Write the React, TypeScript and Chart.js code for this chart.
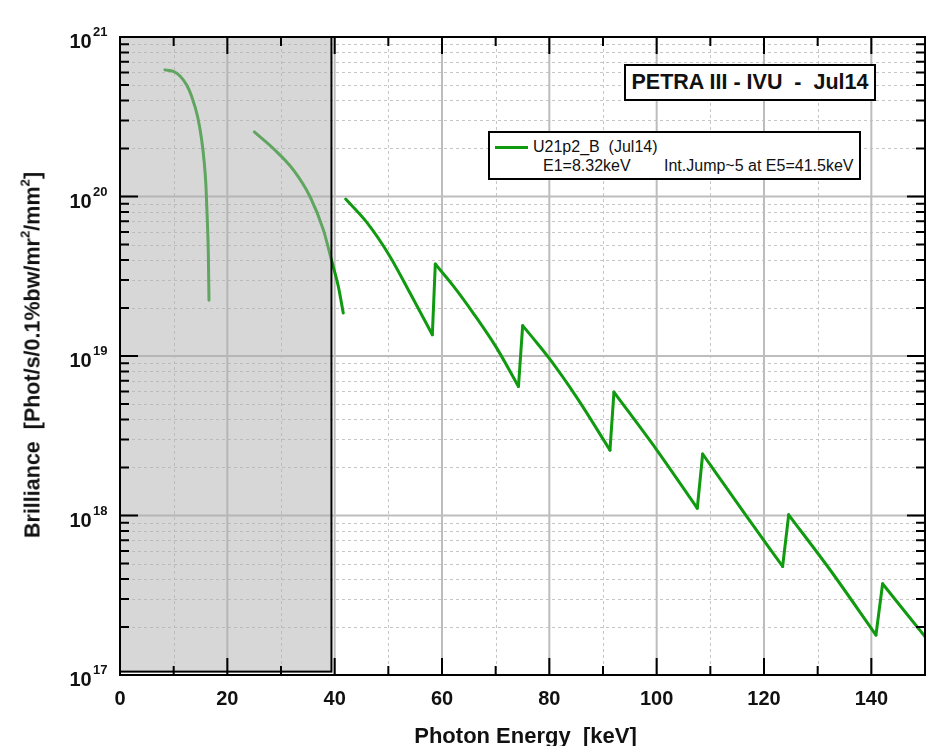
import React, { useEffect, useRef } from 'react';
import { Chart, registerables } from 'chart.js';

Chart.register(...registerables);

// ---- data ----
const h1Energy = [8.38, 9.93, 11.18, 12.42, 13.36, 14.47, 15.22, 15.71, 16.02, 16.27, 16.46, 16.58];
const h1Brilliance = [6.22e20, 6.08e20, 5.7e20, 5.0e20, 4.24e20, 3.16e20, 2.26e20, 1.62e20, 1.16e20, 7.1e19, 4.4e19, 2.24e19];

const h3Energy = [25.03, 28.57, 32.3, 35.4, 37.88, 39.4, 40.68, 41.6];
const h3Brilliance = [2.54e20, 2.0e20, 1.47e20, 1.0e20, 6.2e19, 4.0e19, 2.73e19, 1.86e19];

// harmonics 5..17, continuous curve with jumps
const highEnergy = [42.05, 45.96, 50.3, 54.04, 58.2, 58.75, 62.1, 66.0, 70.2, 74.25, 75.03, 77.0, 80.1, 85.1, 91.3, 92.04, 100.0, 107.57, 108.57, 116.77, 123.47, 124.6, 132.3, 140.86, 142.1, 150];
const highBrilliance = [9.64e19, 6.9e19, 4.21e19, 2.48e19, 1.36e19, 3.77e19, 2.75e19, 1.82e19, 1.12e19, 6.44e18, 1.55e19, 1.29e19, 9.55e18, 5.5e18, 2.57e18, 5.94e18, 2.58e18, 1.11e18, 2.43e18, 9.86e17, 4.79e17, 1.01e18, 4.57e17, 1.78e17, 3.73e17, 1.74e17];

const xTickValues = [0, 20, 40, 60, 80, 100, 120, 140];
const xMinorValues = [10, 30, 50, 70, 90, 110, 130, 150];
const yDecades = [17, 18, 19, 20, 21];
const yMinorMultipliers = [2, 3, 4, 5, 6, 7, 8, 9];
const shadedEnergy = [0, 39.4];
const shadedBrilliance = [1.05e17, 1e21];

const GREEN = '#109a10';
const FONT = 'Arial, "Liberation Sans", Helvetica, sans-serif';

type P = { x: number; y: number };
const toPoints = (xs: number[], ys: number[]): P[] => xs.map((x, i) => ({ x, y: ys[i] }));

// split the continuous curve at the jumps into smooth harmonic pieces + straight jump pieces
function splitAtJumps(pts: P[]) {
  const smooth: P[][] = [];
  const jumps: P[][] = [];
  let cur: P[] = [pts[0]];
  for (let i = 1; i < pts.length; i++) {
    if (pts[i].y > pts[i - 1].y) {
      smooth.push(cur);
      jumps.push([pts[i - 1], pts[i]]);
      cur = [pts[i]];
    } else {
      cur.push(pts[i]);
    }
  }
  smooth.push(cur);
  return { smooth, jumps };
}

const framePlugin = {
  id: 'framePlugin',
  beforeDatasetsDraw(chart: any) {
    const { ctx, chartArea: a, scales } = chart;
    const x = scales.x, y = scales.y;
    ctx.save();
    ctx.lineWidth = 1;
    ctx.strokeStyle = '#c6c6c6';
    ctx.setLineDash([3, 3]);
    ctx.beginPath();
    for (const v of xMinorValues) {
      const px = Math.round(x.getPixelForValue(v)) + 0.5;
      ctx.moveTo(px, a.top); ctx.lineTo(px, a.bottom);
    }
    for (const d of yDecades.slice(0, -1)) {
      for (const k of yMinorMultipliers) {
        const py = Math.round(y.getPixelForValue(k * Math.pow(10, d))) + 0.5;
        ctx.moveTo(a.left, py); ctx.lineTo(a.right, py);
      }
    }
    ctx.stroke();
    ctx.setLineDash([]);
    ctx.lineWidth = 2;
    ctx.strokeStyle = '#bdbdbd';
    ctx.beginPath();
    for (const v of xTickValues) {
      const px = x.getPixelForValue(v);
      ctx.moveTo(px, a.top); ctx.lineTo(px, a.bottom);
    }
    for (const d of yDecades) {
      const py = y.getPixelForValue(Math.pow(10, d));
      ctx.moveTo(a.left, py); ctx.lineTo(a.right, py);
    }
    ctx.stroke();
    ctx.restore();
  },
  afterDatasetsDraw(chart: any) {
    const { ctx, chartArea: a, scales } = chart;
    const x = scales.x, y = scales.y;
    ctx.save();
    const x0 = x.getPixelForValue(shadedEnergy[0]);
    const x1 = x.getPixelForValue(shadedEnergy[1]);
    const y0 = y.getPixelForValue(shadedBrilliance[1]);
    const y1 = y.getPixelForValue(shadedBrilliance[0]);
    ctx.fillStyle = 'rgba(175,175,175,0.5)';
    ctx.fillRect(x0, y0, x1 - x0, y1 - y0);
    ctx.lineWidth = 2;
    ctx.strokeStyle = '#000';
    ctx.strokeRect(x0, y0, x1 - x0, y1 - y0);

    ctx.strokeRect(a.left, a.top, a.right - a.left, a.bottom - a.top);

    ctx.beginPath();
    for (const v of xTickValues) {
      const px = x.getPixelForValue(v);
      ctx.moveTo(px, a.bottom); ctx.lineTo(px, a.bottom - 17);
      ctx.moveTo(px, a.top); ctx.lineTo(px, a.top + 17);
    }
    for (const v of xMinorValues) {
      const px = x.getPixelForValue(v);
      ctx.moveTo(px, a.bottom); ctx.lineTo(px, a.bottom - 9);
      ctx.moveTo(px, a.top); ctx.lineTo(px, a.top + 9);
    }
    for (const d of yDecades) {
      const py = y.getPixelForValue(Math.pow(10, d));
      ctx.moveTo(a.left, py); ctx.lineTo(a.left + 18, py);
      ctx.moveTo(a.right, py); ctx.lineTo(a.right - 18, py);
    }
    for (const d of yDecades.slice(0, -1)) {
      for (const k of yMinorMultipliers) {
        const py = y.getPixelForValue(k * Math.pow(10, d));
        ctx.moveTo(a.left, py); ctx.lineTo(a.left + 9, py);
        ctx.moveTo(a.right, py); ctx.lineTo(a.right - 9, py);
      }
    }
    ctx.stroke();

    ctx.fillStyle = '#111';
    ctx.textAlign = 'left';
    ctx.textBaseline = 'alphabetic';
    for (const d of yDecades) {
      const py = y.getPixelForValue(Math.pow(10, d));
      ctx.font = `bold 20px ${FONT}`;
      ctx.fillText('10', 69.5, py + 11);
      ctx.font = `bold 13px ${FONT}`;
      ctx.fillText(String(d), 93, py - 1);
    }
    ctx.restore();
  },
};

export default function App() {
  const ref = useRef<HTMLCanvasElement | null>(null);

  useEffect(() => {
    if (!ref.current) return;
    const common = {
      borderColor: GREEN,
      backgroundColor: GREEN,
      borderWidth: 3,
      pointRadius: 0,
      fill: false,
      borderCapStyle: 'round',
      borderJoinStyle: 'round',
    };
    const { smooth, jumps } = splitAtJumps(toPoints(highEnergy, highBrilliance));
    const datasets: any[] = [
      { ...common, label: 'h1', data: toPoints(h1Energy, h1Brilliance), cubicInterpolationMode: 'monotone' },
      { ...common, label: 'h3', data: toPoints(h3Energy, h3Brilliance), cubicInterpolationMode: 'monotone' },
      ...smooth.map((d, i) => ({ ...common, label: i === 0 ? 'U21p2_B (Jul14)' : `h${5 + 2 * i}`, data: d, cubicInterpolationMode: 'monotone' })),
      ...jumps.map((d, i) => ({ ...common, label: `jump${i}`, data: d, tension: 0 })),
    ];
    const chart = new Chart(ref.current, {
      type: 'line',
      data: { datasets } as any,
      options: {
        animation: false,
        responsive: false,
        maintainAspectRatio: false,
        devicePixelRatio: 1,
        layout: { padding: { top: 37, right: 9, left: 0, bottom: 0 } },
        plugins: { legend: { display: false }, tooltip: { enabled: false }, title: { display: false } },
        scales: {
          x: {
            type: 'linear',
            min: 0,
            max: 150,
            grid: { display: false, drawTicks: false },
            border: { display: false },
            ticks: {
              font: { family: FONT, size: 20, weight: 'bold' },
              color: '#111',
              padding: 12,
              maxRotation: 0,
              autoSkip: false,
            },
            afterBuildTicks: (s: any) => { s.ticks = xTickValues.map((v) => ({ value: v })); },
            afterFit: (s: any) => { s.height = 71; },
          },
          y: {
            type: 'logarithmic',
            min: 1e17,
            max: 1e21,
            grid: { display: false, drawTicks: false },
            border: { display: false },
            ticks: { display: false },
            afterFit: (s: any) => { s.width = 120; },
          },
        },
      } as any,
      plugins: [framePlugin],
    });
    return () => chart.destroy();
  }, []);

  const abs: React.CSSProperties = { position: 'absolute' };
  const sup: React.CSSProperties = { fontSize: '0.62em', position: 'relative', top: '-0.75em', lineHeight: 0 };
  return (
    <div style={{ position: 'absolute', left: 0, top: 0, width: 934, height: 746, background: '#fff', fontFamily: FONT, color: '#111', overflow: 'hidden' }}>
      <canvas ref={ref} width={934} height={746} style={{ position: 'absolute', left: 0, top: 0, width: 934, height: 746 }} />
      <div style={{ ...abs, left: 624, top: 64, width: 252, height: 37, boxSizing: 'border-box', border: '2px solid #000', background: '#fff', display: 'flex', alignItems: 'center', justifyContent: 'center', fontWeight: 'bold', fontSize: 21.5, whiteSpace: 'pre', lineHeight: '21px' }}>
        {'PETRA III - IVU  -  Jul14'}
      </div>
      <div style={{ ...abs, left: 488, top: 131, width: 373, height: 49, boxSizing: 'border-box', border: '2px solid #000', background: '#fff' }}>
        <div style={{ ...abs, left: 5, top: 13, width: 33, height: 3, background: GREEN }} />
        <div style={{ ...abs, left: 43, top: 6, fontSize: 16, lineHeight: '16px', whiteSpace: 'pre' }}>{'U21p2_B  (Jul14)'}</div>
        <div style={{ ...abs, left: 53, top: 25, fontSize: 16, lineHeight: '16px', whiteSpace: 'pre' }}>{'E1=8.32keV'}</div>
        <div style={{ ...abs, left: 174, top: 25, fontSize: 16, lineHeight: '16px', whiteSpace: 'pre' }}>{'Int.Jump~5 at E5=41.5keV'}</div>
      </div>
      <div style={{ ...abs, left: 525.5, top: 725, transform: 'translateX(-50%)', fontWeight: 'bold', fontSize: 22, lineHeight: '22px', whiteSpace: 'pre' }}>
        {'Photon Energy  [keV]'}
      </div>
      <div style={{ ...abs, left: 33, top: 355, transform: 'translate(-50%, -50%) rotate(-90deg)', fontWeight: 'bold', fontSize: 21.5, lineHeight: '21px', whiteSpace: 'pre' }}>
        {'Brilliance  [Phot/s/0.1%bw/mr'}
        <span style={sup}>2</span>
        {'/mm'}
        <span style={sup}>2</span>
        {']'}
      </div>
    </div>
  );
}
